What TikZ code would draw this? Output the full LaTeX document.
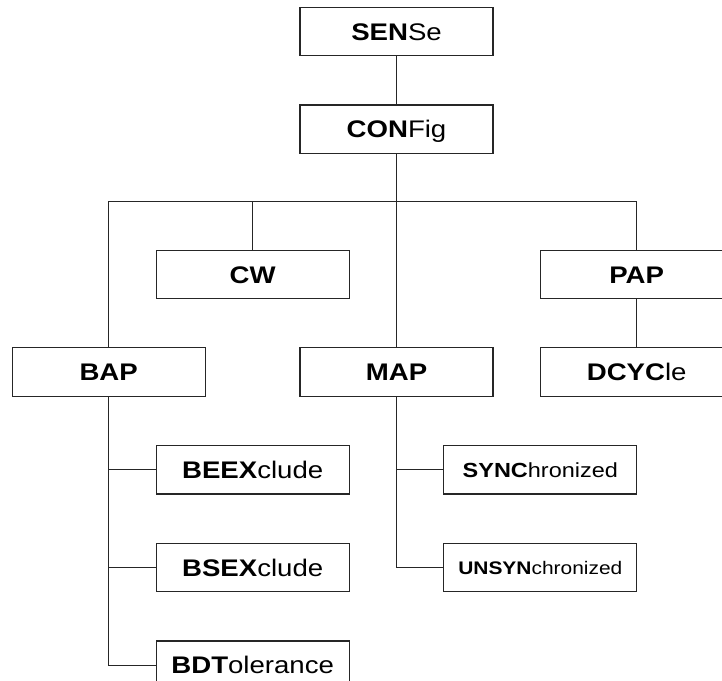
\documentclass[tikz,border=0pt]{standalone}
\usepackage{fontspec}
\setmainfont{Liberation Sans}[FakeStretch=1.15]
\usetikzlibrary{positioning,calc}

\begin{document}
\begin{tikzpicture}[
node distance = 24pt and 48pt,
    box/.style = {draw=black!85, line width=0.6pt, inner sep=0pt,
                  minimum width=96.5pt, minimum height=24.25pt,
                  font=\fontsize{12}{14}\selectfont,
                  text height=8.6pt, text depth=0pt},
 subbox/.style = {box, font=\fontsize{10.2}{12}\selectfont, text height=7.3pt},
tinybox/.style = {box, font=\fontsize{9.1}{11}\selectfont, text height=6.5pt},
   link/.style = {draw=black!85, line width=0.5pt}
                    ]
\clip (0,0) rectangle (361pt,-340pt);
\node (sense)  [box] at (198.25pt,-15.75pt)          {\textbf{SEN}Se};
\node (config) [box,below=of sense]                  {\textbf{CON}Fig};
\node (cw)     [box,below=47.75pt of config,
                xshift=-71.9pt]                      {\textbf{CW}};
\node (pap)    [box,below=47.75pt of config,
                xshift=120.1pt]                      {\textbf{PAP}};
\node (bap)    [box,below=of cw,xshift=-72pt]        {\textbf{BAP}};
\node (map)    [box,below=of cw,xshift=71.9pt]       {\textbf{MAP}};
\node (dcycle) [box,below=of pap]                    {\textbf{DCYC}le};
\node (beex)   [box,below=of bap,xshift=72pt]        {\textbf{BEEX}clude};
\node (bsex)   [box,below=of beex]                   {\textbf{BSEX}clude};
\node (bdt)    [box,below=of bsex]                   {\textbf{BDT}olerance};
\node (sync)   [subbox,below=of map,xshift=71.9pt]   {\textbf{SYNC}hronized};
\node (unsync) [tinybox,below=of sync]               {\textbf{UNSYN}chronized};
% bus under CONFig
\coordinate (bus) at ($(config.south)!0.5!(config.south |- cw.north)$);
\path[link]
    (sense)        edge (config)
    (config.south) edge (map.north)
    (cw.north)     edge (cw.north |- bus)
    (pap)          edge (dcycle)
    (beex.west)    edge (beex.west -| bap.south)
    (bsex.west)    edge (bsex.west -| bap.south)
    (sync.west)    edge (sync.west -| map.south);
\draw[link] (bap.north) |- (bus) -| (pap.north);
\draw[link] (bap.south) |- (bdt.west);
\draw[link] (map.south) |- (unsync.west);
\end{tikzpicture}
\end{document}
